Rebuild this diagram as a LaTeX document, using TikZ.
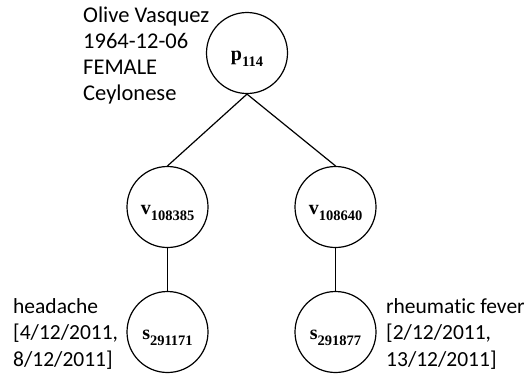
\documentclass[tikz,border=0pt]{standalone}
\usepackage{fontspec}
\setmainfont{Liberation Serif}
\newfontfamily\notefont[Ligatures=NoCommon]{Carlito}
% identifier with a lowered index, as in p_{114}
\newcommand\idlabel[2]{#1\raisebox{-6pt}{\fontsize{14.5}{14.5}\selectfont #2}}
\begin{document}
\begin{tikzpicture}[x=1pt,y=-1pt,
  entity/.style={circle, draw, line width=1.2pt, minimum size=81pt, inner sep=0pt,
    text height=15pt, text depth=0pt, font=\fontsize{20}{20}\selectfont\bfseries},
  note/.style={align=left, inner sep=0pt, anchor=base west,
    font=\notefont\fontsize{21.5}{26.5}\selectfont},
  link/.style={line width=1.2pt}]
\useasboundingbox (0,0) rectangle (529,376);

% patient, visits and symptoms
\node[entity] (p)  at (247,53)    {\idlabel{p}{114}};
\node[entity] (v1) at (167.5,207) {\idlabel{v}{108385}};
\node[entity] (v2) at (335.5,207) {\idlabel{v}{108640}};
\node[entity] (s1) at (167.5,332) {\idlabel{s}{291171}};
\node[entity] (s2) at (335.5,332) {\idlabel{s}{291877}};

% edges of the tree
\draw[link] (p.south) -- (v1.north);
\draw[link] (p.south) -- (v2.north);
\draw[link] (v1) -- (s1);
\draw[link] (v2) -- (s2);

% attribute notes (anchored at the baseline of their last line)
\node[note, font=\notefont\fontsize{22.5}{25.7}\selectfont] (pinfo) at (83,100)
  {Olive Vasquez\\1964-12-06\\FEMALE\\Ceylonese};
\node[note] (s1info) at (13,366) {headache\\{[4/12/2011,}\\8/12/2011]};
\node[note] (s2info) at (386,366) {rheumatic fever\\{[2/12/2011,}\\13/12/2011]};
\end{tikzpicture}
\end{document}
